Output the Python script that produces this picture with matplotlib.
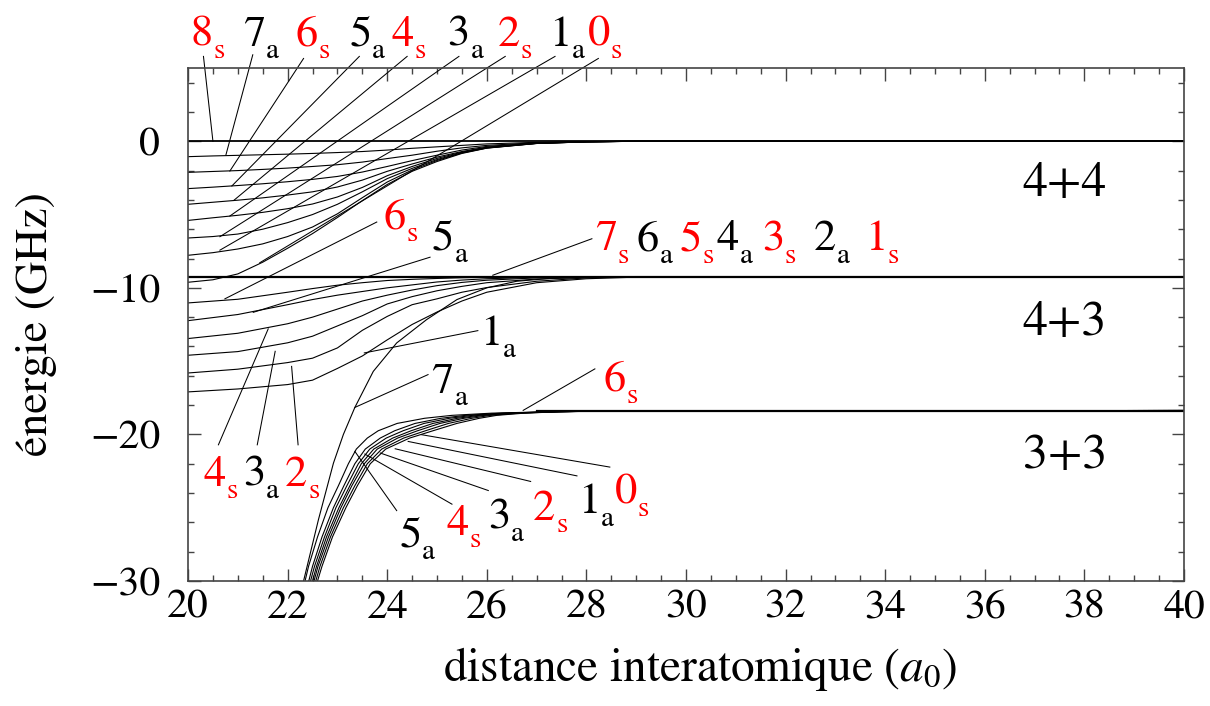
import matplotlib.pyplot as plt
from matplotlib.ticker import MultipleLocator

plt.rcParams['font.family'] = 'STIXGeneral'
plt.rcParams['mathtext.fontset'] = 'stix'

# ---- 4+4 asymptote (0 GHz): energies on a common grid of distances (a0)
r44 = [20, 20.5, 21, 21.5, 22, 22.5, 23, 23.5, 24, 24.5, 25, 25.5, 26, 27, 28, 29, 40]
e44_8s = [0] * len(r44)
e44_7a = [-1.05, -1.0, -0.96, -0.92, -0.88, -0.83, -0.77, -0.7, -0.6, -0.48, -0.38, -0.28, -0.18, -0.07, -0.02, 0, 0]
e44_6s = [-2.12, -2.06, -2.0, -1.92, -1.83, -1.72, -1.6, -1.42, -1.18, -0.95, -0.68, -0.45, -0.28, -0.1, -0.03, 0, 0]
e44_5a = [-3.23, -3.13, -3.02, -2.9, -2.76, -2.6, -2.4, -2.1, -1.72, -1.32, -0.95, -0.6, -0.35, -0.12, -0.03, 0, 0]
e44_4s = [-4.3, -4.16, -4.02, -3.86, -3.67, -3.45, -3.12, -2.65, -2.05, -1.55, -1.08, -0.7, -0.4, -0.13, -0.03, 0, 0]
e44_3a = [-5.4, -5.22, -5.05, -4.85, -4.6, -4.28, -3.8, -3.15, -2.35, -1.72, -1.17, -0.74, -0.43, -0.14, -0.04, 0, 0]
e44_2s = [-6.6, -6.5, -6.33, -6.0, -5.55, -5.0, -4.3, -3.45, -2.55, -1.85, -1.25, -0.78, -0.45, -0.14, -0.04, 0, 0]
e44_1a = [-7.78, -7.6, -7.35, -7.0, -6.5, -5.85, -4.95, -3.85, -2.78, -1.96, -1.31, -0.8, -0.46, -0.15, -0.04, 0, 0]
e44_0s = [-9.62, -9.45, -9.05, -8.25, -7.3, -6.3, -5.2, -4.05, -2.95, -2.05, -1.38, -0.83, -0.47, -0.15, -0.04, 0, 0]

# ---- 4+3 asymptote (-9.23 GHz)
r43 = [20, 21, 22, 22.5, 23, 23.5, 24, 24.5, 25, 25.5, 26, 27, 28, 29, 40]
e43_6s = [-11.03, -10.78, -10.3, -10.05, -9.82, -9.65, -9.5, -9.42, -9.36, -9.31, -9.28, -9.25, -9.24, -9.23, -9.23]
e43_5a = [-12.24, -11.82, -11.15, -10.8, -10.5, -10.25, -10.0, -9.8, -9.6, -9.47, -9.38, -9.28, -9.25, -9.23, -9.23]
e43_4s = [-13.46, -13.1, -12.45, -12.0, -11.45, -10.9, -10.5, -10.15, -9.85, -9.63, -9.48, -9.32, -9.26, -9.24, -9.23]
e43_3a = [-14.6, -14.35, -13.75, -13.3, -12.6, -11.9, -11.1, -10.6, -10.2, -9.9, -9.65, -9.4, -9.28, -9.24, -9.23]
e43_2s = [-15.81, -15.55, -15.1, -14.8, -14.1, -12.9, -11.95, -11.15, -10.75, -10.3, -9.98, -9.55, -9.32, -9.25, -9.23]
e43_1a = [-17.1, -16.9, -16.6, -16.3, -15.5, -14.65, -13.55, -12.5, -11.65, -10.9, -10.3, -9.65, -9.38, -9.27, -9.23]
e43_flat = -9.23   # 7s 6a 5s 4a 3s 2a 1s stay on the asymptote

# 7a comes up from below and joins the 4+3 asymptote
r43_7a = [22.22, 22.32, 22.62, 22.92, 23.12, 23.35, 23.72, 24.19, 24.79, 25.4, 26.0, 26.6, 27.3, 28.5, 40]
e43_7a = [-31.3, -30.0, -25.8, -21.96, -20.0, -18.16, -15.7, -13.76, -12.17, -10.8, -10.0, -9.55, -9.35, -9.26, -9.23]

# ---- 3+3 asymptote (-18.37 GHz): distance of each curve at given energies
e33 = [-31, -29, -27, -25, -23.5, -22, -21, -20.25, -19.75, -19.25, -18.9, -18.7, -18.55, -18.45, -18.4, -18.37]
r33_5a = [22.28, 22.42, 22.6, 22.81, 23.02, 23.22, 23.38, 23.6, 23.82, 24.2, 24.75, 25.3, 26.1, 27.3, 28.5, 40]
r33_4s = [22.35, 22.50, 22.69, 22.92, 23.13, 23.35, 23.56, 23.86, 24.15, 24.56, 25.08, 25.57, 26.3, 27.36, 28.53, 40]
r33_3a = [22.38, 22.54, 22.74, 22.97, 23.19, 23.42, 23.65, 23.98, 24.32, 24.74, 25.25, 25.71, 26.39, 27.39, 28.55, 40]
r33_2s = [22.42, 22.58, 22.78, 23.03, 23.25, 23.48, 23.73, 24.11, 24.48, 24.92, 25.41, 25.84, 26.49, 27.42, 28.56, 40]
r33_1a = [22.45, 22.61, 22.82, 23.07, 23.29, 23.54, 23.8, 24.21, 24.61, 25.06, 25.54, 25.95, 26.57, 27.44, 28.57, 40]
r33_6s = [22.48, 22.65, 22.86, 23.12, 23.35, 23.6, 23.89, 24.33, 24.77, 25.23, 25.7, 26.07, 26.66, 27.47, 28.59, 40]
r33_0s = [22.51, 22.69, 22.9, 23.17, 23.4, 23.66, 23.97, 24.45, 24.92, 25.4, 25.85, 26.2, 26.75, 27.5, 28.6, 40]
e33_flat = -18.37

# ---- labels: name, text position (left, baseline), leader start, leader end
top_names = ['8s', '7a', '6s', '5a', '4s', '3a', '2s', '1a', '0s']
top_x = [20.05, 21.11, 22.15, 23.24, 24.09, 25.21, 26.21, 27.24, 28.03]
top_y = 6.51
top_from = [(20.31, 5.79), (21.30, 5.90), (22.32, 5.65), (23.44, 5.79), (24.40, 5.79),
            (25.44, 5.79), (26.37, 5.79), (27.37, 5.79), (28.24, 5.65)]
top_to = [(20.50, 0.0), (20.76, -0.94), (20.84, -2.03), (20.88, -3.05), (20.92, -4.03),
          (20.84, -5.10), (20.64, -6.51), (20.64, -7.43), (21.44, -8.29)]

mid_names = ['6s', '5a', '4s', '3a', '2s', '1a', '7a']
mid_pos = [(23.92, -5.97), (24.89, -7.38), (20.31, -23.51), (21.11, -23.51),
           (21.95, -23.51), (25.86, -13.87), (24.89, -17.17)]
mid_from = [(23.79, -5.51), (24.86, -7.91), (20.61, -20.71), (21.39, -20.71),
            (22.21, -20.71), (25.82, -12.92), (24.82, -15.92)]
mid_to = [(20.74, -10.75), (21.31, -11.67), (21.61, -12.80), (21.75, -14.33),
          (22.08, -15.36), (23.54, -14.44), (23.35, -18.16)]

row_names = ['7s', '6a', '5s', '4a', '3s', '2a', '1s']
row_x = [28.17, 29.01, 29.88, 30.62, 31.52, 32.56, 33.59]
row_y = -7.43
row_from = (28.11, -6.65)
row_to = (26.12, -9.14)

low_names = ['6s', '5a', '4s', '3a', '2s', '1a', '0s']
low_pos = [(28.35, -17.0), (24.24, -27.66), (25.19, -26.86), (26.03, -26.4),
           (26.93, -25.83), (27.84, -25.38), (28.57, -24.69)]
low_from = [(28.17, -15.53), (24.19, -25.20), (25.30, -24.76), (26.03, -23.83),
            (26.88, -23.21), (27.81, -22.83), (28.47, -22.23)]
low_to = [(26.73, -18.36), (23.35, -21.16), (23.55, -21.34), (23.86, -21.27),
          (24.16, -20.98), (24.42, -20.48), (24.69, -20.02)]

limit_names = ['4+4', '4+3', '3+3']
limit_x = 36.76
limit_y = [-3.74, -13.19, -22.3]

fig = plt.figure(figsize=(12.1, 7.06), dpi=100)
ax = fig.add_axes([0.1554, 0.1771, 0.8231, 0.7266])

lw = 0.8
for e in [e44_7a, e44_6s, e44_5a, e44_4s, e44_3a, e44_2s, e44_1a, e44_0s]:
    ax.plot(r44, e, color='k', lw=lw)
ax.plot(r44, e44_8s, color='k', lw=1.3)

for e in [e43_6s, e43_5a, e43_4s, e43_3a, e43_2s, e43_1a]:
    ax.plot(r43, e, color='k', lw=lw)
ax.plot(r43_7a, e43_7a, color='k', lw=lw)
ax.axhline(e43_flat, color='k', lw=1.6)

for r in [r33_5a, r33_4s, r33_3a, r33_2s, r33_1a, r33_6s, r33_0s]:
    ax.plot(r, e33, color='k', lw=lw)
ax.plot([27.0, 40], [e33_flat, e33_flat], color='k', lw=1.6)


def label(name, x, y):
    # digit, then a small lowered subscript s (red) or a (black)
    col = 'red' if name[1] == 's' else 'black'
    ax.text(x, y, name[0], color=col, fontsize=32, ha='left', va='baseline', clip_on=False)
    ax.annotate(name[1], xy=(x, y), xytext=(16.5, -9), textcoords='offset points',
                color=col, fontsize=21, ha='left', va='baseline', annotation_clip=False)


def leader(p0, p1):
    ax.plot([p0[0], p1[0]], [p0[1], p1[1]], color='k', lw=0.75, clip_on=False)


for n, x, a, b in zip(top_names, top_x, top_from, top_to):
    label(n, x, top_y)
    leader(a, b)
for n, p, a, b in zip(mid_names, mid_pos, mid_from, mid_to):
    label(n, p[0], p[1])
    leader(a, b)
for n, x in zip(row_names, row_x):
    label(n, x, row_y)
leader(row_from, row_to)
for n, p, a, b in zip(low_names, low_pos, low_from, low_to):
    label(n, p[0], p[1])
    leader(a, b)

for n, y in zip(limit_names, limit_y):
    ax.text(limit_x, y, n, fontsize=36, ha='left', va='baseline')

ax.set_xlim(20, 40)
ax.set_ylim(-30, 5)
ax.xaxis.set_major_locator(MultipleLocator(2))
ax.xaxis.set_minor_locator(MultipleLocator(0.5))
ax.yaxis.set_major_locator(MultipleLocator(10))
ax.yaxis.set_minor_locator(MultipleLocator(2))
ax.tick_params(which='both', direction='in', top=True, right=True, color='#444444', width=1.0)
ax.tick_params(which='major', length=9)
ax.tick_params(which='minor', length=4.5)
ax.tick_params(axis='y', labelsize=30, pad=20)
ax.tick_params(axis='x', labelsize=30, pad=6)
for s in ax.spines.values():
    s.set_color('#444444')
    s.set_linewidth(1.2)

ax.set_ylabel('énergie (GHz)', fontsize=33)
ax.yaxis.set_label_coords(-0.1315, 0.5)
ax.set_xlabel('distance interatomique ($a_0$)', fontsize=34)
ax.xaxis.set_label_coords(0.514, -0.125)

fig.savefig('out.png', dpi=100)
